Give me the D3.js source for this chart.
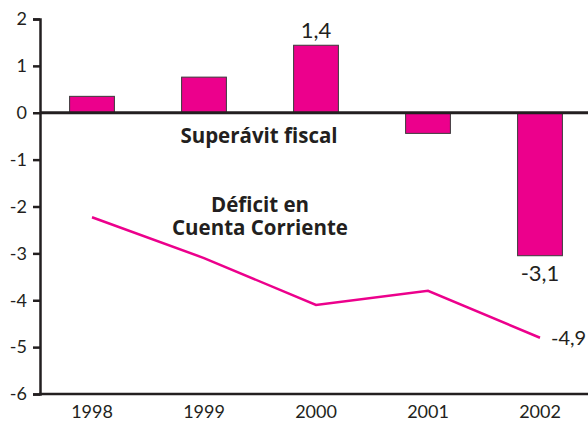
<!DOCTYPE html>
<html>
<head>
<meta charset="utf-8">
<script src="https://cdn.jsdelivr.net/npm/d3@7"></script>
<style>
  body { margin: 0; background: #fff; }
  svg text { font-family: "Lato", "Open Sans", sans-serif; fill: #231f20; }
  svg text.title { font-family: "Open Sans", "Lato", sans-serif; }
</style>
</head>
<body>
<div class="chart"></div>
<script>
const years = ['1998', '1999', '2000', '2001', '2002'];
const superavit = [0.35, 0.76, 1.44, -0.44, -3.05];
const superavitLabels = ['', '', '1,4', '', '-3,1'];
const deficit = [-2.23, -3.1, -4.1, -3.8, -4.8];
const deficitLabels = ['', '', '', '', '-4,9'];
const yTicks = [2, 1, 0, -1, -2, -3, -4, -5, -6];

const width = 588;
const height = 424;

const x = d3.scaleBand()
  .domain(years)
  .range([36, 596])
  .paddingInner(0.6)
  .paddingOuter(0.3);

const y = d3.scaleLinear()
  .domain([-6, 2])
  .range([394, 19]);

const svg = d3.select('.chart')
  .append('svg')
  .attr('width', width)
  .attr('height', height);

const pink = '#ec008c';
const ink = '#231f20';

// barras
svg.selectAll('rect.bar')
  .data(superavit)
  .enter()
  .append('rect')
  .attr('class', 'bar')
  .attr('x', (d, i) => x(years[i]))
  .attr('width', x.bandwidth())
  .attr('y', d => y(Math.max(0, d)))
  .attr('height', d => Math.abs(y(d) - y(0)))
  .attr('fill', pink)
  .attr('stroke', '#3a3a3a')
  .attr('stroke-width', 1);

// linea
const line = d3.line()
  .x((d, i) => x(years[i]) + x.bandwidth() / 2)
  .y(d => y(d));

svg.append('path')
  .datum(deficit)
  .attr('d', line)
  .attr('fill', 'none')
  .attr('stroke', pink)
  .attr('stroke-width', 2.5);

// eje y
const yAxis = svg.append('g')
  .attr('transform', 'translate(40,0)')
  .call(d3.axisLeft(y).tickValues(yTicks).tickSize(7).tickPadding(6).tickFormat(d => d));
yAxis.select('.domain').attr('stroke', ink).attr('stroke-width', 2.5);
yAxis.selectAll('.tick line').attr('stroke', ink).attr('stroke-width', 2.5);
yAxis.selectAll('.tick text').attr('font-size', 18).style('fill', ink);

// linea cero y base
svg.append('line')
  .attr('x1', 40).attr('x2', width)
  .attr('y1', y(0)).attr('y2', y(0))
  .attr('stroke', ink).attr('stroke-width', 3);

const xAxis = svg.append('g')
  .attr('transform', `translate(0,${y(-6)})`)
  .call(d3.axisBottom(x).tickSize(0).tickPadding(11));
xAxis.select('.domain').attr('d', `M39,0H${width}`).attr('stroke', ink).attr('stroke-width', 2.5);
xAxis.selectAll('.tick text').attr('font-size', 18).style('fill', ink);

// etiquetas de valores
svg.selectAll('text.barlabel')
  .data(superavitLabels)
  .enter()
  .append('text')
  .attr('class', 'barlabel')
  .attr('x', (d, i) => x(years[i]) + x.bandwidth() / 2)
  .attr('y', (d, i) => superavit[i] >= 0 ? y(superavit[i]) - 7 : y(superavit[i]) + 25)
  .attr('text-anchor', 'middle')
  .attr('font-size', 22)
  .text(d => d);

svg.selectAll('text.linelabel')
  .data(deficitLabels)
  .enter()
  .append('text')
  .attr('class', 'linelabel')
  .attr('x', (d, i) => x(years[i]) + x.bandwidth() / 2 + 11)
  .attr('y', (d, i) => y(deficit[i]))
  .attr('dy', '0.35em')
  .attr('font-size', 20)
  .text(d => d);

// titulos de series
const bold = svg.append('g')
  .attr('font-weight', 'bold')
  .attr('text-anchor', 'middle');
bold.append('text').attr('x', 259).attr('y', 143).text('Superávit fiscal');
bold.append('text').attr('x', 260).attr('y', 212).text('Déficit en');
bold.append('text').attr('x', 260).attr('y', 235).text('Cuenta Corriente');
bold.selectAll('text').attr('class', 'title').attr('font-size', 20.5);
</script>
</body>
</html>
